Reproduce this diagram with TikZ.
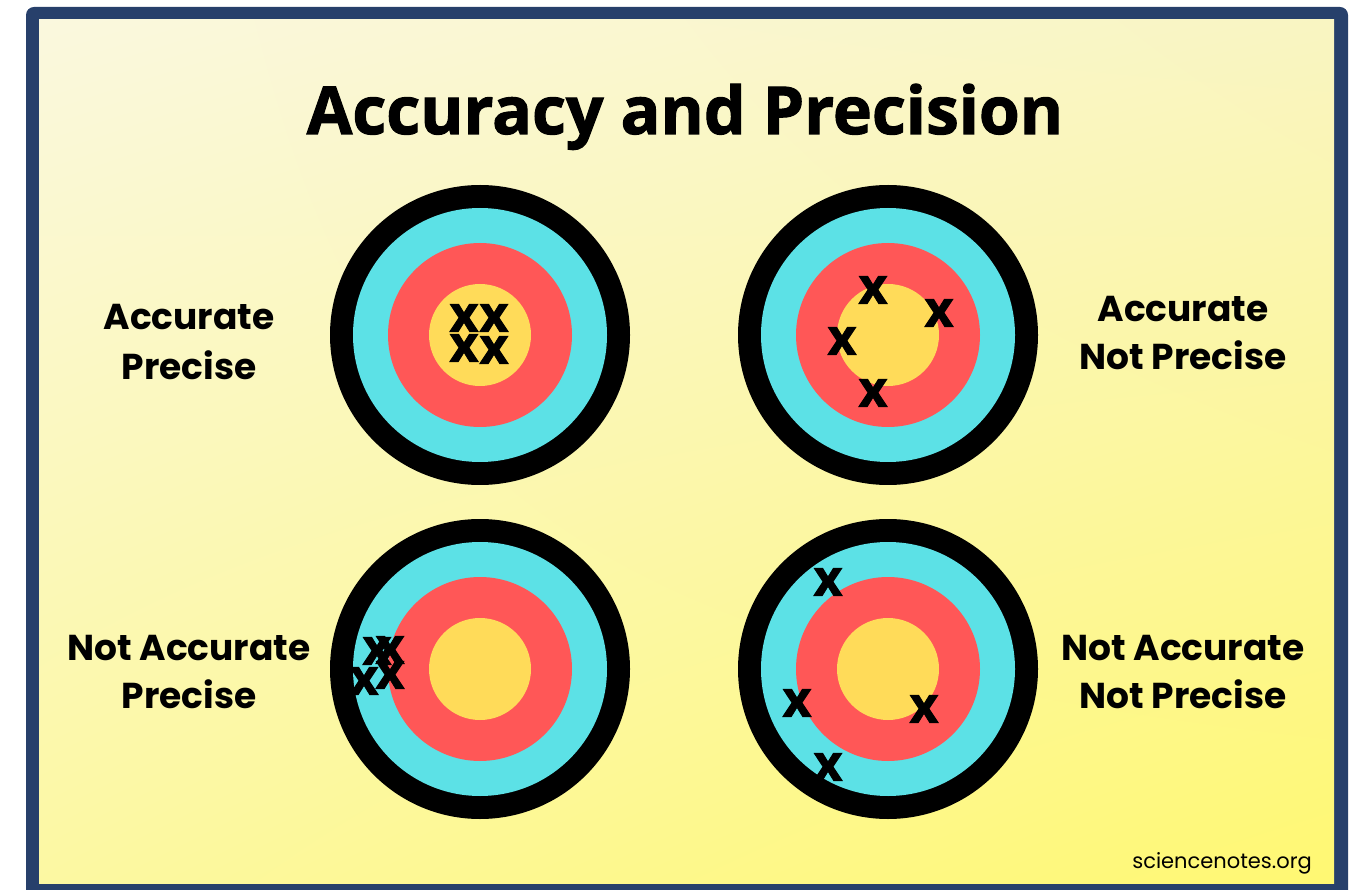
\documentclass[tikz,border=0pt]{standalone}
\usepackage{fontspec}
\setmainfont{Poppins}
\newfontfamily\headfont{Open Sans}[BoldFeatures={FakeBold=1.6}]
\usepackage{xcolor}
\usetikzlibrary{positioning,shadings}
\definecolor{frameblue}{HTML}{27406B}
\definecolor{ringcyan}{HTML}{5CE1E6}
\definecolor{ringred}{HTML}{FF5757}
\definecolor{ringgold}{HTML}{FFDB59}
\definecolor{bgtl}{HTML}{FAF8DE}
\definecolor{bgtr}{HTML}{F9F5C2}
\definecolor{bgbl}{HTML}{FCF8A2}
\definecolor{bgbr}{HTML}{FFF872}
\tikzset{
  ttl/.style   ={inner sep=0pt, anchor=base, font=\headfont\fontsize{66}{66}\selectfont\bfseries},
  lbl/.style   ={inner sep=0pt, anchor=base, font=\fontsize{36}{36}\selectfont\bfseries},
  hit/.style   ={inner sep=0pt, font=\headfont\fontsize{50}{50}\selectfont\bfseries},
  credit/.style={inner sep=0pt, anchor=base east, font=\fontsize{21}{21}\selectfont},
}

\begin{document}
\begin{tikzpicture}[x=1pt,y=-1pt]
\clip (0,0) rectangle (1350,890);
\useasboundingbox (0,0) rectangle (1350,890);
% --- frame and background ---
\fill[frameblue, rounded corners=8pt] (26,7) rectangle (1348,905);
\shade[upper left=bgtl, upper right=bgtr, lower left=bgbl, lower right=bgbr] (39,20) rectangle (1334,883);
% --- title ---
\node[ttl] (title) at (685,134) {Accuracy and Precision};
% --- targets ---
\coordinate (tl) at (480,335);
\coordinate (tr) at (888,335);
\coordinate (bl) at (480,669);
\coordinate (br) at (888,669);
\foreach \c in {tl,tr,bl,br} {
  \fill[black]    (\c) circle (150);
  \fill[ringcyan] (\c) circle (127);
  \fill[ringred]  (\c) circle (92);
  \fill[ringgold] (\c) circle (51);
}
% --- labels ---
\node[lbl] (tlA) at (189,330) {Accurate};
\node[lbl] (tlB) at (189,380) {Precise};
\node[lbl] (trA) at (1183,322) {Accurate};
\node[lbl] (trB) at (1183,370) {Not Precise};
\node[lbl] (blA) at (189,660) {Not Accurate};
\node[lbl] (blB) at (189,708) {Precise};
\node[lbl] (brA) at (1183,660) {Not Accurate};
\node[lbl] (brB) at (1183,708) {Not Precise};
% --- hits ---
\node[hit] (h1) at (464,318) {x};
\node[hit] (h2) at (494,318) {x};
\node[hit] (h3) at (464,348) {x};
\node[hit] (h4) at (494,350) {x};
\node[hit] (h5) at (873,290) {x};
\node[hit] (h6) at (939,313) {x};
\node[hit] (h7) at (842,341) {x};
\node[hit] (h8) at (873,393) {x};
\node[hit] (h9)  at (377,651) {x};
\node[hit] (h10) at (390,650) {x};
\node[hit] (h11) at (364,681) {x};
\node[hit] (h12) at (390,675) {x};
\node[hit] (h13) at (828,582) {x};
\node[hit] (h14) at (797,703) {x};
\node[hit] (h15) at (924,709) {x};
\node[hit] (h16) at (828,767) {x};
% --- credit ---
\node[credit] (site) at (1312,868) {sciencenotes.org};
\end{tikzpicture}
\end{document}
